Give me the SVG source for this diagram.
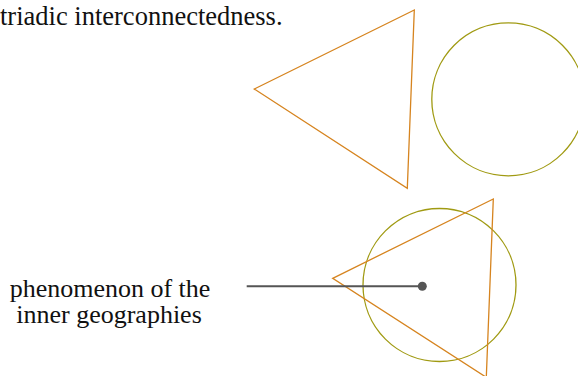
<svg xmlns="http://www.w3.org/2000/svg" width="578" height="376" viewBox="0 0 578 376">
<style>
.t{font-family:"Liberation Serif","Times New Roman",serif;font-size:26.5px;fill:#111}
.l{font-size:26px}
.tri{fill:none;stroke:#d6841f;stroke-width:1.3}
.cir{fill:none;stroke:#a09a12;stroke-width:1.3}
</style>
<rect width="578" height="376" fill="#fff"/>
<g id="title"><text class="t" x="0" y="25">triadic interconnectedness.</text></g>
<g id="triangle-top"><polygon class="tri" points="414.3,10 254.3,89 407.3,188.3"/></g>
<g id="circle-top"><circle class="cir" cx="508.3" cy="99.3" r="76.5"/></g>
<g id="combined">
<circle class="cir" cx="439.5" cy="285" r="76.5"/>
<polygon class="tri" points="493.3,199 332.7,278.3 486.3,377.3"/>
</g>
<g id="label"><text class="t l" text-anchor="middle" x="110" y="296.5">phenomenon of the</text><text class="t l" text-anchor="middle" x="109" y="322.5">inner geographies</text></g>
<g id="connectors">
<line x1="246.7" y1="286.3" x2="422.3" y2="286.3" stroke="#555" stroke-width="2"/>
<circle cx="422.3" cy="286.3" r="4.5" fill="#555"/>
</g>
</svg>
